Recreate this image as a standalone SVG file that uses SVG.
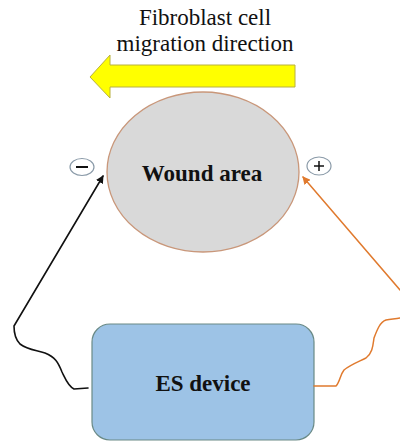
<svg xmlns="http://www.w3.org/2000/svg" width="400" height="444" viewBox="0 0 400 444">
<style>
.t{font-family:"Liberation Serif",serif;fill:#111}
.b{font-weight:bold;font-size:23px}
.sign{fill:#fff;stroke:#8a9aa8;stroke-width:1.2}
</style>
<defs>
<marker id="ab" markerWidth="8" markerHeight="8" refX="7" refY="4" orient="auto" markerUnits="userSpaceOnUse"><path d="M0,0 L8,4 L0,8 z" fill="#111"/></marker>
<marker id="ao" markerWidth="8" markerHeight="8" refX="7" refY="4" orient="auto" markerUnits="userSpaceOnUse"><path d="M0,0 L8,4 L0,8 z" fill="#e07a2e"/></marker>
</defs>
<rect width="400" height="444" fill="#fff"/>
<g id="title">
<text class="t" x="205" y="25" font-size="23" text-anchor="middle">Fibroblast cell</text>
<text class="t" x="205" y="51" font-size="23" text-anchor="middle">migration direction</text>
</g>
<g id="migration-arrow">
<polygon points="295,65 110,65 110,55 90,77 110,98 110,87 295,87" fill="#ffff00" stroke="#b8b040" stroke-width="1"/>
</g>
<g id="wound">
<ellipse cx="203" cy="172" rx="96" ry="80" fill="#d9d9d9" stroke="#c9977a" stroke-width="1.3"/>
<text class="t b" x="202" y="181" text-anchor="middle">Wound area</text>
</g>
<g id="minus">
<ellipse class="sign" cx="82" cy="167" rx="12" ry="8.5"/>
<line x1="76" y1="167" x2="88" y2="167" stroke="#111" stroke-width="2"/>
</g>
<g id="plus">
<ellipse class="sign" cx="319" cy="166" rx="12" ry="9"/>
<line x1="314" y1="166" x2="324" y2="166" stroke="#111" stroke-width="1.5"/>
<line x1="319" y1="161" x2="319" y2="171" stroke="#111" stroke-width="1.5"/>
</g>
<g id="es-device">
<rect x="92" y="324" width="222" height="116" rx="18" fill="#9dc3e6" stroke="#6a8a86" stroke-width="1.2"/>
<text class="t b" x="203" y="391" text-anchor="middle">ES device</text>
</g>
<g id="connectors" fill="none" stroke-linejoin="round" stroke-linecap="round">
<path d="M88,388 L74,389 C68,386 65,378 62,372 C58,362 55,357 45,353 C36,350 28,350 20,344 C15,339 14,333 14,326 L103,176" stroke="#111" stroke-width="1.6" marker-end="url(#ab)"/>
<path d="M314,386 L336,386 C340,382 340,375 344,370 C350,365 358,362 366,358 C373,353 373,344 374,338 C377,330 380,322 386,320 C392,319 396,319 400,318 M400,290 L303,177" stroke="#e07a2e" stroke-width="1.5" marker-end="url(#ao)"/>
</g>
</svg>
